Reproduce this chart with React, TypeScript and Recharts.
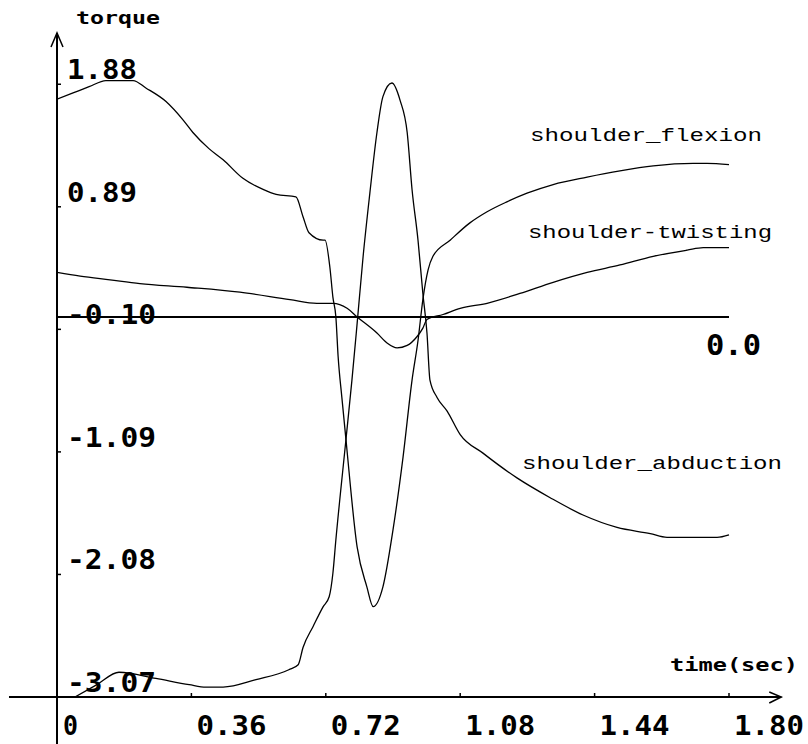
import React from "react";
import { LineChart, Line, XAxis, YAxis, ReferenceLine } from "recharts";

// ---- data (time in sec, torque) ----
const xTicks = [0, 0.36, 0.72, 1.08, 1.44, 1.8];
const xTickLabels = ["0", "0.36", "0.72", "1.08", "1.44", "1.80"];
const yTicks = [1.88, 0.89, -0.1, -1.09, -2.08, -3.07];
const yTickLabels = ["1.88", "0.89", "-0.10", "-1.09", "-2.08", "-3.07"];

const flexionT = [0, 0.043, 0.086, 0.131, 0.204, 0.238, 0.292, 0.338, 0.364, 0.407, 0.445, 0.498, 0.552, 0.587, 0.64, 0.659, 0.675, 0.713, 0.718, 0.731, 0.739, 0.747, 0.753, 0.763, 0.774, 0.804, 0.83, 0.847, 0.873, 0.9, 0.927, 0.951, 0.967, 0.98, 0.994, 1.007, 1.053, 1.106, 1.152, 1.205, 1.259, 1.329, 1.42, 1.508, 1.597, 1.704, 1.741, 1.8];
const flexionV = [1.76, 1.81, 1.86, 1.91, 1.91, 1.85, 1.74, 1.59, 1.49, 1.36, 1.27, 1.12, 1.03, 0.99, 0.97, 0.81, 0.68, 0.62, 0.62, 0.4, 0.16, 0.0, -0.32, -0.65, -0.99, -1.86, -2.18, -2.34, -2.18, -1.72, -1.13, -0.51, -0.19, 0.14, 0.38, 0.49, 0.62, 0.76, 0.85, 0.93, 1.0, 1.07, 1.13, 1.18, 1.22, 1.24, 1.24, 1.23];

const abductionT = [0.048, 0.107, 0.166, 0.265, 0.354, 0.399, 0.445, 0.533, 0.621, 0.646, 0.659, 0.686, 0.713, 0.729, 0.739, 0.747, 0.774, 0.79, 0.804, 0.82, 0.838, 0.857, 0.873, 0.897, 0.919, 0.938, 0.951, 0.967, 0.98, 0.991, 0.999, 1.018, 1.045, 1.08, 1.141, 1.232, 1.321, 1.409, 1.5, 1.589, 1.634, 1.768, 1.8];
const abductionV = [-3.07, -2.97, -2.87, -2.92, -2.97, -2.99, -2.99, -2.93, -2.85, -2.81, -2.67, -2.5, -2.34, -2.26, -2.07, -1.8, -0.99, -0.51, -0.05, 0.49, 1.0, 1.49, 1.78, 1.89, 1.75, 1.49, 1.03, 0.62, 0.19, -0.13, -0.51, -0.65, -0.76, -0.95, -1.1, -1.3, -1.46, -1.6, -1.7, -1.75, -1.78, -1.78, -1.76];

const twistingT = [0, 0.062, 0.142, 0.222, 0.348, 0.49, 0.624, 0.696, 0.739, 0.777, 0.804, 0.857, 0.884, 0.911, 0.938, 0.964, 0.98, 0.991, 1.034, 1.08, 1.152, 1.24, 1.329, 1.42, 1.508, 1.597, 1.688, 1.731, 1.8];
const twistingV = [0.36, 0.33, 0.3, 0.27, 0.24, 0.2, 0.14, 0.11, 0.11, 0.07, 0.0, -0.13, -0.21, -0.25, -0.23, -0.16, -0.09, -0.02, 0.02, 0.07, 0.11, 0.19, 0.28, 0.36, 0.42, 0.49, 0.54, 0.56, 0.56];

const zip = (ts: number[], vs: number[]) => ts.map((t, i) => ({ t, v: vs[i] }));
const flexionData = zip(flexionT, flexionV);
const abductionData = zip(abductionT, abductionV);
const twistingData = zip(twistingT, twistingV);

const BOLD = "'DejaVu Sans Mono', monospace";
const REG = "'Liberation Mono', 'DejaVu Sans Mono', monospace";

const XTick = (props: any) => {
  const { x, y, payload } = props;
  const i = xTicks.indexOf(payload.value);
  const label = i >= 0 ? xTickLabels[i] : String(payload.value);
  const first = payload.value === 0;
  return (
    <g>
      {!first && <line x1={x} y1={y - 4} x2={x} y2={y} stroke="#000" strokeWidth={1.5} />}
      <text
        x={x + (first ? 6 : 5)}
        y={y + 38}
        fontFamily={BOLD}
        fontWeight="bold"
        fontSize={27}
        fill="#000"
        textLength={first ? 15 : 70}
        lengthAdjust="spacingAndGlyphs"
      >
        {label}
      </text>
    </g>
  );
};

const YTick = (props: any) => {
  const { x, y, payload } = props;
  const i = yTicks.indexOf(payload.value);
  const label = i >= 0 ? yTickLabels[i] : String(payload.value);
  return (
    <g>
      <line x1={x} y1={y} x2={x + 4} y2={y} stroke="#000" strokeWidth={1.5} />
      <text
        x={x + 10}
        y={y - 5}
        fontFamily={BOLD}
        fontWeight="bold"
        fontSize={27}
        fill="#000"
        textLength={label.length === 5 ? 89 : 70}
        lengthAdjust="spacingAndGlyphs"
      >
        {label}
      </text>
    </g>
  );
};

const YAxisShape = (props: any) => {
  const { x1, y1, x2, y2 } = props;
  const top = Math.min(y1, y2);
  const bottom = Math.max(y1, y2);
  return (
    <g>
      <line x1={x1} y1={top} x2={x2} y2={bottom} stroke="#000" strokeWidth={2} />
      <path d={`M ${x1 - 6} ${top + 14} L ${x1} ${top} L ${x1 + 6} ${top + 14}`} fill="none" stroke="#000" strokeWidth={1.5} />
    </g>
  );
};

const XAxisShape = (props: any) => {
  const { x1, y1, x2, y2 } = props;
  const left = Math.min(x1, x2);
  const right = Math.max(x1, x2);
  return (
    <g>
      <line x1={left} y1={y1} x2={right} y2={y2} stroke="#000" strokeWidth={2} />
      <path d={`M ${right - 12} ${y1 - 5} L ${right} ${y1} L ${right - 12} ${y1 + 6}`} fill="none" stroke="#000" strokeWidth={1.5} />
    </g>
  );
};

const ZeroShape = (props: any) => {
  const { x1, y1, x2, y2 } = props;
  const right = Math.max(x1, x2);
  return (
    <g>
      <line x1={x1} y1={y1} x2={x2} y2={y2} stroke="#000" strokeWidth={2} />
      <text x={right - 23} y={y1 + 38} fontFamily={BOLD} fontWeight="bold" fontSize={28} fill="#000" textLength={55} lengthAdjust="spacingAndGlyphs">
        0.0
      </text>
    </g>
  );
};

export default function App() {
  return (
    <div style={{ position: "absolute", left: 0, top: 0, background: "#fff" }}>
      <LineChart width={808} height={744} margin={{ top: 33, right: 23, bottom: 0, left: 0 }}>
        <XAxis
          type="number"
          dataKey="t"
          domain={[0, 1.95]}
          ticks={xTicks}
          interval={0}
          allowDataOverflow
          height={47}
          axisLine={false}
          tickLine={false}
          tickSize={0}
          tickMargin={0}
          tick={XTick}
        />
        <YAxis
          type="number"
          domain={[-3.07, 2.294]}
          ticks={yTicks}
          interval={0}
          allowDataOverflow
          width={57}
          axisLine={false}
          tickLine={false}
          tickSize={0}
          tickMargin={0}
          tick={YTick}
        />
        <ReferenceLine segment={[{ x: 0, y: 2.294 }, { x: 0, y: -3.45 }]} ifOverflow="visible" shape={<YAxisShape />} />
        <ReferenceLine segment={[{ x: -0.1286, y: -3.07 }, { x: 1.94, y: -3.07 }]} ifOverflow="visible" shape={<XAxisShape />} />
        <ReferenceLine segment={[{ x: 0, y: 0 }, { x: 1.8, y: 0 }]} ifOverflow="visible" shape={<ZeroShape />} />
        <Line data={flexionData} dataKey="v" type="monotone" stroke="#000" strokeWidth={1.3} dot={false} isAnimationActive={false} />
        <Line data={abductionData} dataKey="v" type="monotone" stroke="#000" strokeWidth={1.3} dot={false} isAnimationActive={false} />
        <Line data={twistingData} dataKey="v" type="monotone" stroke="#000" strokeWidth={1.3} dot={false} isAnimationActive={false} />
        <text x={76} y={24} fontFamily={BOLD} fontWeight="bold" fontSize={17} fill="#000" textLength={84} lengthAdjust="spacingAndGlyphs">torque</text>
        <text x={670} y={671} fontFamily={BOLD} fontWeight="bold" fontSize={17} fill="#000" textLength={128} lengthAdjust="spacingAndGlyphs">time(sec)</text>
        <text x={530} y={141} fontFamily={REG} fontSize={18} fill="#000" textLength={232} lengthAdjust="spacingAndGlyphs">shoulder_flexion</text>
        <text x={528} y={238} fontFamily={REG} fontSize={18} fill="#000" textLength={244} lengthAdjust="spacingAndGlyphs">shoulder-twisting</text>
        <text x={522} y={469} fontFamily={REG} fontSize={18} fill="#000" textLength={260} lengthAdjust="spacingAndGlyphs">shoulder_abduction</text>
      </LineChart>
    </div>
  );
}
